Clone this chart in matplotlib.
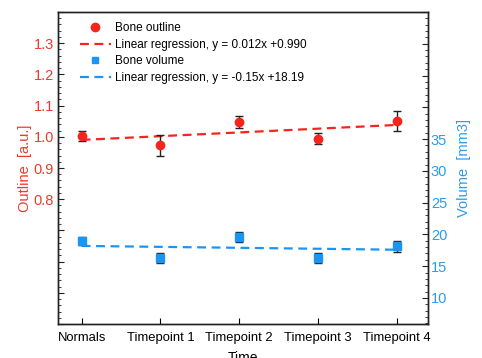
import matplotlib
matplotlib.use("Agg")
import matplotlib.pyplot as plt
import numpy as np
from matplotlib.ticker import MultipleLocator, FuncFormatter
from matplotlib.lines import Line2D

plt.rcParams['font.family'] = ['Liberation Sans', 'DejaVu Sans']

categories = ["Normals", "Timepoint 1", "Timepoint 2", "Timepoint 3", "Timepoint 4"]
outline = [1.002, 0.973, 1.048, 0.994, 1.052]
outline_err = [0.015, 0.033, 0.020, 0.017, 0.032]
volume = [19.0, 16.3, 19.6, 16.3, 18.1]
volume_err = [0.6, 0.85, 0.75, 0.75, 0.9]
outline_fit = (0.012, 0.990)
volume_fit = (-0.15, 18.19)

RED = "#f5241c"
BLUE = "#1b95f2"
RED_T = "#ee3a2c"
BLUE_T = "#2a9cf0"

fig = plt.figure(figsize=(4.82, 3.58), dpi=100)
ax = fig.add_axes([58/482, 1-324/358, 370/482, 312/358])
ax2 = ax.twinx()

x = np.arange(len(categories))

ax.errorbar(x, outline, yerr=outline_err, fmt='o', color=RED, ecolor='#222222',
            elinewidth=1.0, capsize=3, capthick=1.0, markersize=6, zorder=3)
l1, = ax.plot(x, outline_fit[0]*x + outline_fit[1], '--', color=RED, lw=1.6, dashes=(4, 2.5))
ax2.errorbar(x, volume, yerr=volume_err, fmt='s', color=BLUE, ecolor='#222222',
             elinewidth=1.0, capsize=3, capthick=1.0, markersize=5.5, zorder=3)
l2, = ax2.plot(x, volume_fit[0]*x + volume_fit[1], '--', color=BLUE, lw=1.6, dashes=(4, 2.5))

ax.set_xlim(-0.3, 4.4)
ax.set_ylim(0.4, 1.4)
ax2.set_ylim(5.9, 55.0)

ax.set_xticks(x)
ax.set_xticklabels(categories, fontsize=9.4)
ax.yaxis.set_major_locator(MultipleLocator(0.1))
ax.yaxis.set_minor_locator(MultipleLocator(0.02))
ax.yaxis.set_major_formatter(FuncFormatter(lambda v, p: f"{v:.1f}" if 0.75 < v < 1.35 else ""))
ax2.yaxis.set_major_locator(MultipleLocator(5))
ax2.yaxis.set_minor_locator(MultipleLocator(1))
ax2.yaxis.set_major_formatter(FuncFormatter(lambda v, p: f"{v:.0f}" if 9 < v < 36 else ""))

ax.tick_params(axis='y', which='both', direction='in', colors='#222222', labelcolor=RED_T,
               labelsize=10.5, pad=3)
ax.tick_params(axis='y', which='major', length=4)
ax.tick_params(axis='y', which='minor', length=2)
ax.tick_params(axis='x', direction='in', length=4, pad=6)
ax2.tick_params(axis='y', which='both', direction='in', colors='#222222', labelcolor=BLUE_T,
                labelsize=10.5, pad=2)
ax2.tick_params(axis='y', which='major', length=4)
ax2.tick_params(axis='y', which='minor', length=2)

ax.set_ylabel("Outline  [a.u.]", color=RED_T, fontsize=10.5, labelpad=1)
ax2.set_ylabel("Volume  [mm3]", color=BLUE_T, fontsize=10.5, labelpad=7)
ax.set_xlabel("Time", fontsize=10, labelpad=5)

for a in (ax, ax2):
    for s in a.spines.values():
        s.set_linewidth(1.0)
        s.set_color('#222222')

m1 = Line2D([], [], marker='o', color=RED, linestyle='none', markersize=6)
m2 = Line2D([], [], marker='s', color=BLUE, linestyle='none', markersize=5)
leg = ax.legend([m1, l1, m2, l2],
                ["Bone outline", "Linear regression, y = 0.012x +0.990",
                 "Bone volume", "Linear regression, y = -0.15x +18.19"],
                loc='upper left', bbox_to_anchor=(0.04, 0.99), frameon=False, fontsize=8.5,
                handlelength=2.6, handletextpad=0.4, labelspacing=0.38, borderaxespad=0.2)
ax.set_zorder(ax2.get_zorder() + 1)
ax.patch.set_visible(False)

fig.savefig("out.png", dpi=100)
